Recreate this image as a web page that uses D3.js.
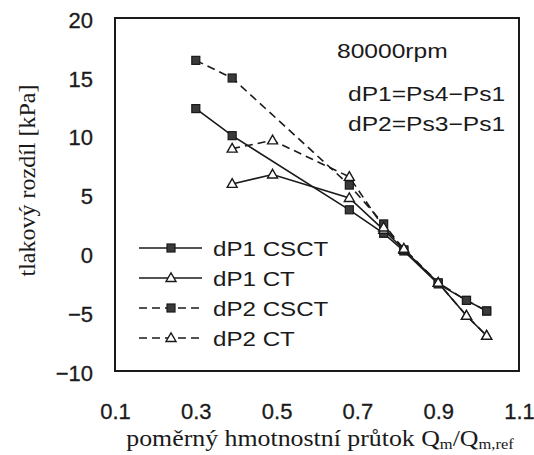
<!DOCTYPE html>
<html>
<head>
<meta charset="utf-8">
<script src="https://cdn.jsdelivr.net/npm/d3@7"></script>
<style>
  body { margin: 0; background: #fff; }
  svg { display: block; }
</style>
</head>
<body>
<div class="chart"></div>
<script>
// values
const xCSCT = [0.3, 0.39, 0.68, 0.765, 0.815, 0.9, 0.97, 1.02];
const xCT = [0.39, 0.49, 0.68, 0.765, 0.815, 0.9, 0.97, 1.02];
const dP1CSCT = [12.3, 10.0, 3.7, 1.7, 0.2, -2.6, -4.0, -4.9];
const dP1CT = [5.9, 6.7, 4.7, 2.0, 0.3, -2.5, -5.3, -7.0];
const dP2CSCT = [16.4, 14.9, 5.8, 2.5, 0.3, -2.5, -4.0, -4.9];
const dP2CT = [8.9, 9.6, 6.5, 2.2, 0.4, -2.5, -5.3, -7.0];
const seriesNames = ['dP1  CSCT', 'dP1  CT', 'dP2  CSCT', 'dP2  CT'];
const xTicks = [0.1, 0.3, 0.5, 0.7, 0.9, 1.1];
const yTicks = [-10, -5, 0, 5, 10, 15, 20];

const series = [
  { name: seriesNames[0], xs: xCSCT, ys: dP1CSCT, dashed: false, marker: 'square' },
  { name: seriesNames[1], xs: xCT, ys: dP1CT, dashed: false, marker: 'triangle' },
  { name: seriesNames[2], xs: xCSCT, ys: dP2CSCT, dashed: true, marker: 'square' },
  { name: seriesNames[3], xs: xCT, ys: dP2CT, dashed: true, marker: 'triangle' },
];

const width = 534;
const height = 455;
const margin = { top: 18, right: 15, bottom: 84, left: 115 };

const svg = d3
  .select('.chart')
  .append('svg')
  .attr('width', width)
  .attr('height', height);

const x = d3.scaleLinear().domain([0.1, 1.1]).range([margin.left, width - margin.right]);
const y = d3.scaleLinear().domain([-10, 20]).range([height - margin.bottom, margin.top]);

const ink = '#1a1a1a';
const dash = '8,5';
const sans = 'Liberation Sans, Arial, sans-serif';
const serif = 'Liberation Serif, Times New Roman, serif';

// frame
svg
  .append('rect')
  .attr('x', x(0.1))
  .attr('y', y(20))
  .attr('width', x(1.1) - x(0.1))
  .attr('height', y(-10) - y(20))
  .attr('fill', 'none')
  .attr('stroke', ink)
  .attr('stroke-width', 2);

// axes without tick marks
const xAxis = svg
  .append('g')
  .attr('transform', `translate(0,${y(-10)})`)
  .call(d3.axisBottom(x).tickValues(xTicks).tickSize(0).tickPadding(32).tickFormat(d3.format('.1f')));
const yAxis = svg
  .append('g')
  .attr('transform', `translate(${x(0.1)},0)`)
  .call(d3.axisLeft(y).tickValues(yTicks).tickSize(0).tickPadding(22).tickFormat((d) => (d < 0 ? '\u2212' + Math.abs(d) : d)));

[xAxis, yAxis].forEach((g) => {
  g.select('.domain').remove();
  g.selectAll('text')
    .attr('font-family', sans)
    .attr('font-size', 22)
    .attr('fill', ink)
    .attr('stroke', ink)
    .attr('stroke-width', 0.3);
});
yAxis.selectAll('text').attr('dy', '0.42em');

// lines
const line = d3
  .line()
  .x((d) => x(d[0]))
  .y((d) => y(d[1]));

function drawMarker(g, type, cx, cy) {
  if (type === 'square') {
    g.append('rect')
      .attr('x', cx - 4)
      .attr('y', cy - 4)
      .attr('width', 8)
      .attr('height', 8)
      .attr('fill', '#3a3a3a')
      .attr('stroke', ink)
      .attr('stroke-width', 1.2);
  } else {
    const s = 10;
    const h = s * 0.87;
    g.append('path')
      .attr('d', `M${cx},${cy - h * 0.6}L${cx + s / 2},${cy + h * 0.4}L${cx - s / 2},${cy + h * 0.4}Z`)
      .attr('fill', '#fff')
      .attr('stroke', ink)
      .attr('stroke-width', 1.4);
  }
}

series.forEach((s) => {
  const pts = s.xs.map((v, i) => [v, s.ys[i]]);
  svg
    .append('path')
    .datum(pts)
    .attr('d', line)
    .attr('fill', 'none')
    .attr('stroke', ink)
    .attr('stroke-width', 1.6)
    .attr('stroke-dasharray', s.dashed ? dash : null);
});

series.forEach((s) => {
  const g = svg.append('g');
  s.xs.forEach((v, i) => drawMarker(g, s.marker, x(v), y(s.ys[i])));
});

// legend
const legend = svg.append('g');
series.forEach((s, i) => {
  const ly = 248 + i * 30;
  legend
    .append('line')
    .attr('x1', 139)
    .attr('x2', 202)
    .attr('y1', ly)
    .attr('y2', ly)
    .attr('stroke', ink)
    .attr('stroke-width', 1.6)
    .attr('stroke-dasharray', s.dashed ? dash : null);
  drawMarker(legend, s.marker, 171, ly);
  legend
    .append('text')
    .attr('transform', `translate(213,${ly + 8}) scale(1.15,1)`)
    .attr('font-family', sans)
    .attr('font-size', 21)
    .attr('fill', ink)
    .text(s.name);
});

// annotation
const notes = ['80000rpm', 'dP1=Ps4\u2212Ps1', 'dP2=Ps3\u2212Ps1'];
const noteX = [337, 348, 348];
const noteY = [58, 101, 131];
notes.forEach((t, i) => {
  svg
    .append('text')
    .attr('transform', `translate(${noteX[i]},${noteY[i]}) scale(1.2,1)`)
    .attr('font-family', sans)
    .attr('font-size', 20.5)
    .attr('fill', ink)
    .text(t);
});

// axis titles
const xt = svg
  .append('text')
  .attr('transform', `translate(${(x(0.1) + x(1.1)) / 2 + 3},446) scale(1.1,1)`)
  .attr('text-anchor', 'middle')
  .attr('font-family', serif)
  .attr('font-size', 23.5)
  .attr('fill', ink);
xt.append('tspan').text('poměrný hmotnostní průtok Q');
xt.append('tspan').attr('font-size', 15).attr('dy', 3).text('m');
xt.append('tspan').attr('dy', -3).text('/Q');
xt.append('tspan').attr('font-size', 15).attr('dy', 3).text('m,ref');

svg
  .append('text')
  .attr('transform', `translate(35,${(y(20) + y(-10)) / 2 - 14}) rotate(-90)`)
  .attr('text-anchor', 'middle')
  .attr('font-family', serif)
  .attr('font-size', 24)
  .attr('fill', ink)
  .text('tlakový rozdíl [kPa]');
</script>
</body>
</html>
